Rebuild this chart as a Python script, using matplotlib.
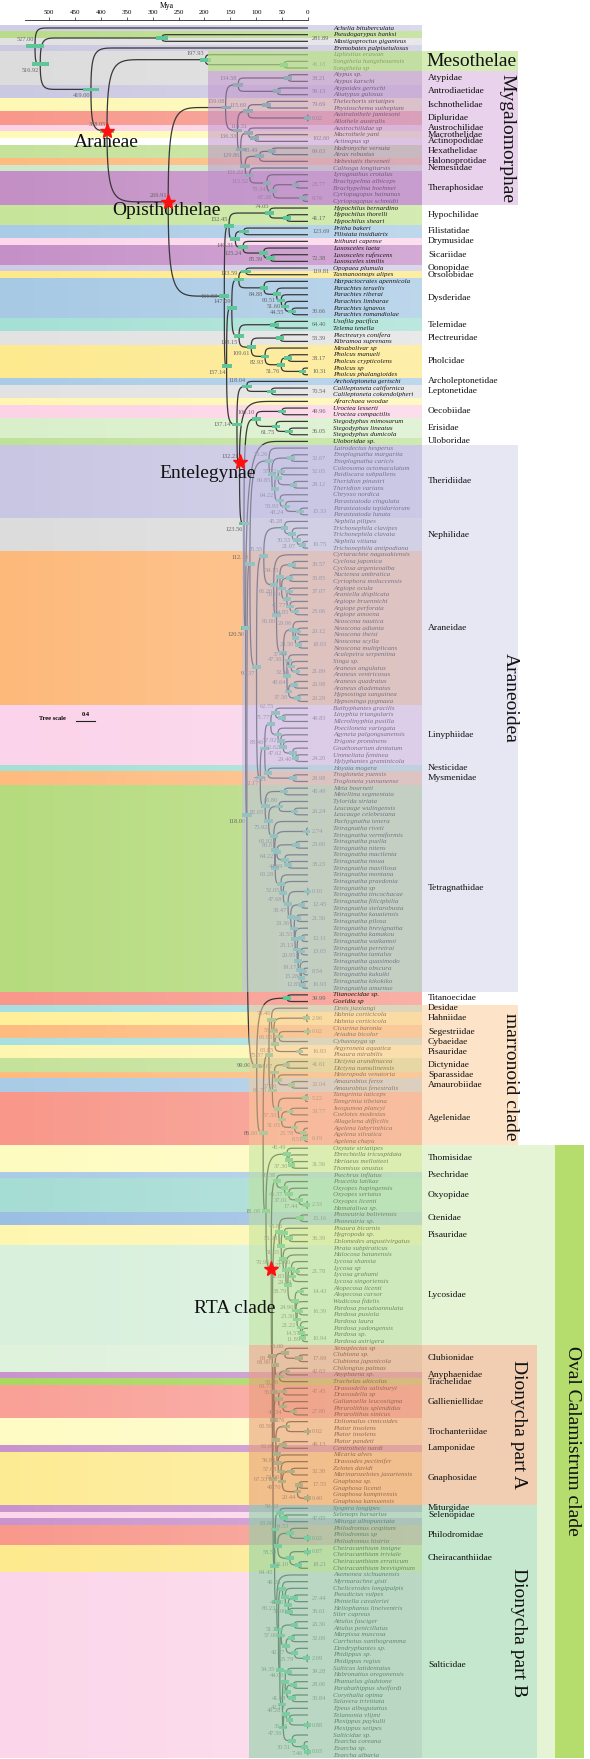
import numpy as np
import matplotlib.pyplot as plt
from matplotlib.collections import LineCollection
from matplotlib.patches import Rectangle

# ---------------- tree data (internal labels = node age, Mya) ----------------
mesothelae = "(Liphistius_erawan,(Songthela_hangzhouensis,Songthela_sp)46.18)197.93"
mygalomorphae = ("(((Atypus_sp.,Atypus_karschi)38.21,(Atypoides_gertschi,Aliatypus_gulosus)59.15)134.58,"
                 "(((Thelechoris_striatipes,Physioschema_suthepium)79.69,(Australothele_jamiesoni,Allothele_australis)0.02)115.69,"
                 "((Austrochilidae_sp,(Macrothele_yani,Actinopus_sp)102.60)114.51,"
                 "(((Hadronyche_versuta,Atrax_robustus)69.63,Hebestatis_theveneti)93.49,"
                 "(Calisoga_longitarsis,(Lyrognathus_crotalus,((Brachypelma_albiceps,Brachypelma_boehmei)23.77,"
                 "(Cyriopagopus_hainanus,Cyriopagopus_schmidti)9.76)67.28)79.34)112.52)121.22)129.86)136.33)159.08")
hypo_sica = ("((Hypochilus_bernardino,(Hypochilus_thorelli,Hypochilus_sheari)41.17)74.05,"
             "((Pritha_bakeri,Filistata_insidiatrix)123.69,(Izithunzi_capense,(Loxosceles_laeta,"
             "(Loxosceles_rufescens,Loxosceles_similis)72.38)85.39)125.24)140.31)152.45")
synspermiata = ("(((Opopaea_plumula,Tasmanoonops_alipes)119.81,(Harpactocrates_apennicola,(Parachtes_teruelis,"
                "(Parachtes_riberai,(Parachtes_limbarae,(Parachtes_ignavus,Parachtes_romandiolae)30.66)44.55)51.60)60.51)84.88)133.59,"
                "((Usofila_pacifica,Telema_tenella)64.40,((Plectreurys_conifera,Kibramoa_suprenans)53.39,"
                "(Mesabolivar_sp,((Pholcus_manueli,Pholcus_crypticolens)38.17,(Pholcus_sp,Pholcus_phalangioides)10.31)51.76)82.93)109.61)133.15)147.09")
theridiidae = ("(Latrodectus_hesperus,((Enoplognatha_margarita,Enoplognatha_caricis)32.67,(((Coleosoma_octomaculatum,"
               "Paidiscura_subpallens)52.05,(Theridion_pinastri,Theridion_varians)28.12)57.72,(Chrysso_nordica,"
               "(Parasteatoda_cingulata,(Parasteatoda_tepidariorum,Parasteatoda_lunata)15.33)43.24)53.93)64.22)69.85)75.26")
nephilidae = ("(Nephila_pilipes,(Trichonephila_clavipes,(Trichonephila_clavata,(Nephila_vitiana,"
              "Trichonephila_antipodiana)10.75)21.07)30.53)45.28")
araneidae = ("(Cyrtarachne_nagasakiensis,(((Cyclosa_japonica,Cyclosa_argenteoalba)30.57,((Nuctenea_umbratica,"
             "Cyrtophora_moluccensis)35.85,((Argiope_ocula,Araniella_displicata)37.07,(Argiope_bruennichi,"
             "(Argiope_perforata,Argiope_amoena)25.06)34.85)40.77)50.94)54.15,((Neoscona_nautica,((Neoscona_adianta,"
             "Neoscona_theisi)20.12,(Neoscona_scylla,Neoscona_multiplicans)18.03)24.50)29.06,((Aculepeira_serpentina,"
             "(Singa_sp.,(Araneus_angulatus,Araneus_ventricosus)21.89)32.54)37.44,((Araneus_quadratus,Araneus_diadematus)26.98,"
             "(Hypsosinga_sanguinea,Hypsosinga_pygmaea)20.29)37.50)40.64)47.36)60.80)66.20")
linyphiidae = ("((Bathyphantes_gracilis,(Linyphia_triangularis,Microlinyphia_pusilla)49.83)62.75,(Poeciloneta_variegata,"
               "(Agyneta_palgongsanensis,(Erigone_prominens,(Gnathonarium_dentatum,(Ummeliata_feminea,"
               "Hylyphantes_graminicola)24.20)29.40)47.62)52.62)57.92)71.77")
tetragnathidae = ("((Meta_bourneti,Metellina_segmentata)45.49,((Tylorida_striata,(Leucauge_wulingensis,Leucauge_celebesiana)26.24)55.80,"
                  "(Pachygnatha_tenera,((Tetragnatha_riveti,Tetragnatha_vermiformis)2.74,(((Tetragnatha_puella,Tetragnatha_nitens)23.60,"
                  "(Tetragnatha_macilenta,(Tetragnatha_moua,Tetragnatha_maxillosa)38.23)44.69)60.01,(Tetragnatha_montana,"
                  "(Tetragnatha_praedonia,((Tetragnatha_sp,Tetragnatha_tincochacae)0.10,((Tetragnatha_filiciphilia,"
                  "Tetragnatha_stelarobusta)12.45,((Tetragnatha_kauaiensis,Tetragnatha_pilosa)21.56,(Tetragnatha_brevignatha,"
                  "((Tetragnatha_kamakou,Tetragnatha_waikamoi)12.11,((Tetragnatha_perreirai,Tetragnatha_tantalus)13.05,"
                  "(Tetragnatha_quasimodo,((Tetragnatha_obscura,Tetragnatha_kukuiki)8.54,(Tetragnatha_kikokiko,"
                  "Tetragnatha_anuenue)10.93)12.85)15.28)19.17)20.95)25.13)26.53)33.36)38.47)47.68)52.05)63.28)64.22)65.92)75.92)82.65")
araneoidea = (f"({theridiidae},(({nephilidae},{araneidae})85.35,(({linyphiidae},(Hoyaia_mogera,"
              f"(Trogloneta_yuensis,Trogloneta_yunnanense)28.98)77.21)83.46,{tetragnathidae})92.17)99.37)112.10")
marronoid = ("((Desis_jiaxiangi,((Hahnia_corticicola,Hahnia_corticicola)2.96,(((Cicurina_baronia,Ariadna_bicolor)0.02,"
             "Cybaeozyga_sp)55.74,(Argyroneta_aquatica,Pisaura_mirabilis)16.83)63.85)65.95)70.40,(((Dictyna_arundinacea,"
             "Dictyna_namulinensis)41.61,(Heteropoda_venatoria,(Amaurobius_ferox,Amaurobius_fenestralis)32.04)57.30)64.67,"
             "((Tamgrinia_laticeps,Tamgrinia_tibetana)5.22,((Iwogumoa_plancyi,Coelotes_modestus)33.77,(Allagelena_difficilis,"
             "(Agelena_labyrinthica,(Agelena_silvatica,Agelena_chayu)6.19)8.51)25.78)51.05)57.33)68.73)75.37")
lycosidae = ("(Pirata_subpiraticus,(Halocosa_hatanensis,((Lycosa_shansia,((Lycosa_sp,Lycosa_grahami)21.78,"
             "Lycosa_singoriensis)29.54)32.00,((Alopecosa_licenti,Alopecosa_cursor)14.43,(Wadicosa_fidelis,"
             "((Pardosa_pseudoannulata,Pardosa_pusiola)16.39,(Pardosa_laura,(Pardosa_yadongensis,(Pardosa_sp.,"
             "Pardosa_astrigera)10.94)11.89)14.57)21.22)23.30)24.90)38.79)42.83)48.21")
dionycha_a = ("(((Xenoplectus_sp,(Clubiona_sp.,Clubiona_japonicola)17.69)45.00,((Chilongius_palmas,Anyphaena_sp.)42.63,"
              "Trachelas_alticolus)55.00)63.50,(((Drassodella_salisburyi,Drassodella_sp)47.45,(Galianoella_leucostigma,"
              "(Phrurolithus_splendidus,Phrurolithus_sinicus)27.80)48.34)56.80,((Doliomalus_cimicoides,(Plator_insolens,"
              "Plator_insolens)0.02)41.76,((Plator_pandeti,Centrothele_nardi)49.13,(Micaria_alves,(Drassodes_pectinifer,"
              "((Zelotes_davidi,Marinarozelotes_jaxartensis)32.38,((Gnaphosa_sp.,Gnaphosa_licenti)17.55,(Gnaphosa_kompirensis,"
              "Gnaphosa_kansuensis)0.40)20.44)49.70)52.00)57.68)59.88)62.00)65.59)65.77")
salticidae = ("(Asemonea_sichuanensis,((Myrmarachne_gisti,(Chelicerodes_longipalpis,((Pseudicius_vulpes,Phintella_cavaleriei)27.44,"
              "(Heliophanus_lineiventris,Siler_cupreus)36.61)38.00)44.00)49.28,(((Attulus_fasciger,Attulus_penicillatus)26.30,"
              "((Marpissa_muscosa,Carrhotus_xanthogramma)32.09,(Dendryphantes_sp.,(Phidippus_sp.,Phidippus_regius)2.09)25.79)42.27)51.73,"
              "(((Salticus_latidentatus,Habronattus_oregonensis)39.28,((Phanuelus_gladstone,Parabathippus_shelfordi)28.06,"
              "(Corythalia_opima,Talavera_trivittata)30.84)41.08)44.00,((Epeus_albogutattus,(Telamonia_vlijmi,(Plexippus_paykulli,"
              "Plexippus_setipes)0.88)35.75)42.14,(Salticidae_sp.,(Evarcha_coreana,(Evarcha_sp.,Evarcha_albaria)0.03)7.46)30.51)47.56)49.28)54.35)57.00)60.23")
dionycha_b = ("(((Syspira_longipes,(Selenops_bursarius,Miturga_albopunctata)47.05)54.53,((Philodromus_cespitum,(Philodromus_sp,"
              "Philodromus_histrio)0.02)34.53,((Cheiracanthium_insigne,Cheiracanthium_triviale)0.87,(Cheiracanthium_erraticum,"
              f"Cheiracanthium_brevispinum)18.21)35.10)58.50)63.06,{salticidae})64.45")
oval_calamistrum = ("((Oxytate_striatipes,(Ebrechtella_tricuspidata,(Heriaeus_mellotteei,Thomisus_onustus)31.56)37.30)40.49,"
                    "((Psechrus_inflatus,(Peucetia_latikae,(Oxyopes_hupingensis,(Oxyopes_sertatus,(Oxyopes_licenti,"
                    "Hamataliwa_sp.)2.33)17.44)37.01)45.37)60.38,(((Phoneutria_boliviensis,Phoneutria_sp.)15.16,((Pisaura_bicornis,"
                    f"(Hygropoda_sp.,Dolomedes_angustivirgatus)36.39)45.85,{lycosidae})51.65)55.98,({dionycha_a},{dionycha_b})67.53)68.90)70.95)81.08")
entelegynae = (f"(((Uroctea_lesserti,Uroctea_compactilis)49.96,(Stegodyphus_mimosarum,(Stegodyphus_lineatus,"
               f"Stegodyphus_dumicola)36.05)61.75)100.10,(Uloboridae_sp.,({araneoidea},((Titanoecidae_sp.,Goeldia_sp)39.99,"
               f"({marronoid},{oval_calamistrum})86.60)99.00)118.00)120.50)123.56")
araneomorphae = (f"({hypo_sica},({synspermiata},((Archoleptoneta_gertschi,(Calileptoneta_californica,"
                 f"Calileptoneta_cokendolpheri)70.54)118.04,(Afrarchaea_woodae,{entelegynae})132.21)137.14)157.14)161.53")
newick = (f"(Achelia_bituberculata,((Pseudogarypus_banksi,Mastigoproctus_giganteus)281.89,(Eremobates_palpisetulosus,"
          f"({mesothelae},({mygalomorphae},{araneomorphae})269.91)388.05)419.00)516.92)527.00")

# family colour ranges: (label, number of leaves, colour)
families = [
    ("", 1, "#d0cde6"), ("", 1, "#b8dc8a"), ("", 1, "#e1e1e1"), ("", 1, "#cbc8e2"), ("", 3, "#dcdcdc"),
    ("Atypidae", 2, "#dcdcdc"), ("Antrodiaetidae", 2, "#cbc8e2"), ("Ischnothelidae", 2, "#fdf8b4"),
    ("Dipluridae", 2, "#f8978a"), ("Austrochilidae", 1, "#fcd3e6"), ("Macrothelidae", 1, "#fefbb8"),
    ("Actinopodidae", 1, "#ffffff"), ("Hexathelidae", 2, "#c5e29a"), ("Halonoprotidae", 1, "#fdbb7e"),
    ("Nemesiidae", 1, "#cde9c9"), ("Theraphosidae", 5, "#c38fc5"), ("Hypochilidae", 3, "#c6e59a"),
    ("Filistatidae", 2, "#a9cbe6"), ("Drymusidae", 1, "#fcd6ea"), ("Sicariidae", 3, "#c590c8"),
    ("Oonopidae", 1, "#cecbe5"), ("Orsolobidae", 1, "#fde98a"), ("Dysderidae", 6, "#a7c9e4"),
    ("Telemidae", 2, "#a5e0d4"), ("Plectreuridae", 2, "#e2e2e2"), ("Pholcidae", 5, "#fde98e"),
    ("Archoleptonetidae", 1, "#a9cbe6"), ("Leptonetidae", 2, "#e2e2e2"), ("", 1, "#fef6b0"),
    ("Oecobiidae", 2, "#fcd3e6"), ("Erisidae", 3, "#d9efca"), ("Uloboridae", 1, "#bfe29a"),
    ("Theridiidae", 11, "#c9c6e3"), ("Nephilidae", 5, "#dcdcdc"), ("Araneidae", 23, "#fdb97a"),
    ("Linyphiidae", 9, "#fbd3ea"), ("Nesticidae", 1, "#a5e0d4"), ("Mysmenidae", 2, "#fdbb7e"),
    ("Tetragnathidae", 31, "#b5db7e"), ("Titanoecidae", 2, "#f8978a"), ("Desidae", 1, "#a8dfe0"),
    ("Hahniidae", 2, "#fef09a"), ("Segestriidae", 2, "#fdbb7e"), ("Cybaeidae", 1, "#a8dfe0"),
    ("Pisauridae", 2, "#fef6b0"), ("Dictynidae", 2, "#c5e29a"), ("Sparassidae", 1, "#fdbb7e"),
    ("Amaurobiidae", 2, "#a9cbe6"), ("Agelenidae", 8, "#f8978a"), ("Thomisidae", 4, "#fefbc0"),
    ("Psechridae", 1, "#a9cbe6"), ("Oxyopidae", 5, "#a5dcd4"), ("Ctenidae", 2, "#9bbfe3"),
    ("Pisauridae", 3, "#fef6b0"), ("Lycosidae", 15, "#d8f0dc"), ("Clubionidae", 4, "#dff2dc"),
    ("Anyphaenidae", 1, "#c994cd"), ("Trachelidae", 1, "#a8d860"), ("Gallieniellidae", 5, "#f9a097"),
    ("Trochanteriidae", 4, "#fefbc4"), ("Lamponidae", 1, "#c994cd"), ("Gnaphosidae", 8, "#fdeb94"),
    ("Miturgidae", 1, "#c994cd"), ("Selenopidae", 1, "#fcd6ea"), ("", 1, "#c994cd"),
    ("Philodromidae", 3, "#f8998c"), ("Cheiracanthiidae", 4, "#fde98e"), ("Salticidae", 28, "#fbd6ea"),
]

# shaded clades: (first leaf, last leaf, left px, colour, alpha) over the tree part
tree_shades = [(4, 6, 208, "#b5dc86", 0.7), (7, 26, 208, "#c093cc", 0.55), (63, 144, 242, "#c3c0e4", 0.55),
               (147, 167, 249, "#f7c99a", 0.55), (168, 197, 249, "#bfe29a", 0.55),
               (198, 221, 249, "#e9a07a", 0.6), (222, 259, 249, "#8fd3a8", 0.6)]
# label panels: (first leaf, last leaf, left px, right px, colour)
label_panels = [(4, 6, 422, 518, "#d4edb4"), (7, 26, 422, 518, "#e9d2eb"), (63, 144, 422, 518, "#e7e6f3"),
                (147, 167, 422, 518, "#fde4c9"), (168, 259, 422, 555, "#e5f4d5"),
                (198, 221, 422, 537, "#f1ceb2"), (222, 259, 422, 537, "#c4e7cd"), (168, 259, 555, 584, "#b4dd6e")]
# clade names: (text, x px, y px, rotation)
clade_names = [("Mesothelae", 426, 61, 0), ("Mygalomorphae", 507, 139, -90), ("Araneoidea", 510, 698, -90),
               ("marronoid clade", 510, 1077, -90), ("Dionycha part A", 518, 1424, -90),
               ("Dionycha part B", 518, 1633, -90), ("Oval Calamistrum clade", 572, 1441, -90)]
# starred nodes: node age label -> (text, dx px, dy px, ha)
star_nodes = {"388.05": ("Araneae", -1, 12, "center"), "269.91": ("Opisthothelae", -2, 9, "center"),
              "132.21": ("Entelegynae", -32, 11, "center"), "70.95": ("RTA clade", 4, 40, "right")}
# node age labels drawn on the same line left of the bar, or forced below it
side_labels = ["161.53", "137.14", "99.00", "86.60", "67.53", "75.37", "68.73", "54.35", "81.08"]
below_labels = ["55.98"]
axis_ticks = [500, 450, 400, 350, 300, 250, 200, 150, 100, 50, 0]

# ---------------- layout helpers ----------------
TIP_PX, MYR_PX, TOP_PX, ROW_PX = 308, 0.518, 28, 6.668


def px_age(px):
    return (TIP_PX - px) / MYR_PX


def px_row(py):
    return (py - TOP_PX) / ROW_PX


def parse_newick(text):
    pos = 0
    leaves = []

    def read_label():
        nonlocal pos
        start = pos
        while pos < len(text) and text[pos] not in "(),":
            pos += 1
        return text[start:pos]

    def node():
        nonlocal pos
        if text[pos] == "(":
            pos += 1
            kids = [node()]
            while text[pos] == ",":
                pos += 1
                kids.append(node())
            pos += 1
            label = read_label()
            y = (kids[0]["y"] + kids[-1]["y"]) / 2
            return {"kids": kids, "label": label, "age": float(label), "y": y, "upper": True}
        leaf = {"kids": [], "label": read_label().replace("_", " "), "age": 0.0, "y": float(len(leaves))}
        leaves.append(leaf)
        return leaf

    root = node()
    return root, leaves


root, leaves = parse_newick(newick)
internal = []
stack = [root]
while stack:
    n = stack.pop()
    if n["kids"]:
        internal.append(n)
        for i, k in enumerate(n["kids"]):
            k["upper"] = i == 0
        stack.extend(n["kids"])

fig = plt.figure(figsize=(5.9, 17.59), dpi=100)
ax = fig.add_axes([0, 0, 1, 1])
ax.axis("off")
serif = "Liberation Serif"

# family bands
start = 0
for label, count, color in families:
    ax.add_patch(Rectangle((px_age(0), start - 0.5), px_age(422) - px_age(0), count,
                           color=color, lw=0, zorder=0))
    if label:
        ax.text(px_age(428), start + (count - 1) / 2, label, va="center", ha="left",
                fontsize=6.8, family=serif, color="#111", zorder=6)
    start += count
grad = np.ones((1, 256, 4))
grad[..., 3] = np.linspace(0, 0.25, 256)
ax.imshow(grad, extent=[px_age(0), px_age(422), px_row(1759), px_row(0)], aspect="auto", zorder=1)

# branches
segs = []
for n in internal:
    for k in n["kids"]:
        dy_px = abs(k["y"] - n["y"]) * ROW_PX
        r = min(n["age"] - k["age"], (6 + 0.45 * dy_px) / MYR_PX, 35 / MYR_PX)
        t = np.linspace(0, 1, 24)[:, None]
        p0 = np.array([n["age"], n["y"]])
        p1 = np.array([n["age"], k["y"]])
        p2 = np.array([n["age"] - 0.2 * r, k["y"]])
        p3 = np.array([n["age"] - r, k["y"]])
        pts = (1 - t) ** 3 * p0 + 3 * (1 - t) ** 2 * t * p1 + 3 * (1 - t) * t ** 2 * p2 + t ** 3 * p3
        segs.append(np.vstack([pts, [k["age"], k["y"]]]))
ax.add_collection(LineCollection(segs, colors="#383838", linewidths=0.9, zorder=2))

# node bars and age labels
for n in internal:
    w = (7 + 0.02 * n["age"]) / MYR_PX
    ax.add_patch(Rectangle((n["age"] + w / 2, n["y"] - 0.28), -w, 0.56, color="#5fc698", lw=0, zorder=3))
    cherry = all(not k["kids"] for k in n["kids"])
    if cherry:
        ax.text(px_age(312), n["y"], n["label"], va="center", ha="left", fontsize=4.6,
                family=serif, color="#666", zorder=4)
    elif n["label"] in side_labels:
        ax.text(n["age"] + w / 2 + 1 / MYR_PX, n["y"], n["label"], va="center",
                ha="right", fontsize=4.6, family=serif, color="#666", zorder=4)
    else:
        above = (n.get("upper", True) or n["label"] in star_nodes) and n["label"] not in below_labels
        ax.text(n["age"] + 1 / MYR_PX, n["y"] + (-0.95 if above else 0.95), n["label"], va="center",
                ha="right", fontsize=4.6, family=serif, color="#666", zorder=4)

for lf in leaves:
    ax.text(px_age(333), lf["y"], lf["label"], va="center", ha="left", fontsize=5,
            style="italic", family=serif, color="#1a1a1a", zorder=4)

# shaded clades
for first, last, x0, color, alpha in tree_shades:
    ax.add_patch(Rectangle((px_age(x0), first - 0.5), px_age(422) - px_age(x0), last - first + 1,
                           color=color, alpha=alpha, lw=0, zorder=5))
for first, last, x0, x1, color in label_panels:
    ax.add_patch(Rectangle((px_age(x0), first - 0.5), px_age(x1) - px_age(x0), last - first + 1,
                           color=color, lw=0, zorder=5))
for text, x, y, rot in clade_names:
    ax.text(px_age(x), px_row(y), text, rotation=rot, va="center", ha="left" if rot == 0 else "center",
            fontsize=14, family=serif, color="#111", zorder=7)

for n in internal:
    if n["label"] in star_nodes:
        text, dx, dy, ha = star_nodes[n["label"]]
        ax.plot(n["age"], n["y"], marker="*", ms=11, color="#ff1010", mec="#ff1010", zorder=9)
        ax.text(n["age"] - dx / MYR_PX, n["y"] + dy / ROW_PX, text, ha=ha, va="center",
                fontsize=14, family=serif, color="#111", zorder=8)

# tree scale
ax.text(px_age(39), px_row(719), "Tree scale", fontsize=4.6, fontweight="bold", family=serif, va="center")
ax.plot([px_age(76), px_age(95)], [px_row(721), px_row(721)], color="#222", lw=0.8)
ax.text(px_age(85.5), px_row(714), "0.4", fontsize=4.6, fontweight="bold", family=serif, ha="center", va="center")

ax.set_xlim(px_age(0), px_age(590))
ax.set_ylim(px_row(1759), px_row(0))

# time axis
tax = fig.add_axes([25 / 590, 1 - 20 / 1759, (308 - 25) / 590, 1e-5])
tax.set_xlim(px_age(25), 0)
tax.set_yticks([])
for side in ["left", "right", "bottom"]:
    tax.spines[side].set_visible(False)
tax.spines["top"].set_linewidth(0.7)
tax.spines["top"].set_color("#444")
tax.xaxis.tick_top()
tax.xaxis.set_label_position("top")
tax.set_xticks(axis_ticks)
tax.tick_params(axis="x", direction="out", length=2.5, width=0.6, color="#444", labelsize=5, pad=1)
for lab in tax.get_xticklabels():
    lab.set_family(serif)
tax.set_xlabel("Mya", fontsize=5.5, family=serif, labelpad=1.5)
tax.patch.set_alpha(0)

fig.savefig("out.png", dpi=100)
